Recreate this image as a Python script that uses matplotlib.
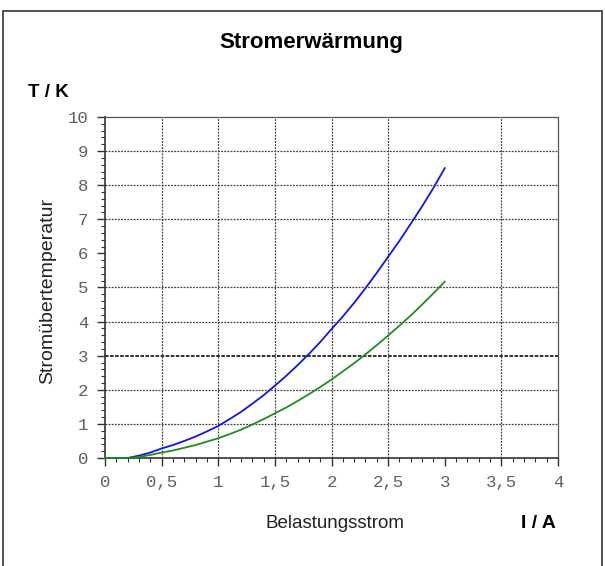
import matplotlib.pyplot as plt
import numpy as np
from matplotlib.ticker import MultipleLocator

# Belastungsstrom I / A
strom = [0, 0.1, 0.2, 0.3, 0.4, 0.5, 0.6, 0.7, 0.8, 0.9, 1.0,
         1.1, 1.2, 1.3, 1.4, 1.5, 1.6, 1.7, 1.8, 1.9, 2.0,
         2.1, 2.2, 2.3, 2.4, 2.5, 2.6, 2.7, 2.8, 2.9, 3.0]
# Stromübertemperatur T / K
temp_blau = [0, 0, 0, 0.07, 0.16, 0.28, 0.38, 0.50, 0.63, 0.78, 0.94,
             1.14, 1.35, 1.59, 1.84, 2.12, 2.41, 2.72, 3.05, 3.40, 3.78,
             4.15, 4.55, 4.98, 5.43, 5.90, 6.37, 6.87, 7.38, 7.92, 8.50]
temp_gruen = [0, 0, 0, 0.03, 0.09, 0.16, 0.22, 0.30, 0.38, 0.48, 0.58,
              0.70, 0.83, 0.98, 1.14, 1.31, 1.48, 1.67, 1.87, 2.08, 2.30,
              2.54, 2.78, 3.04, 3.31, 3.59, 3.88, 4.18, 4.50, 4.83, 5.17]

x_ticks = [0, 0.5, 1, 1.5, 2, 2.5, 3, 3.5, 4]
x_labels = ["0", "0,5", "1", "1,5", "2", "2,5", "3", "3,5", "4"]
y_ticks = list(range(0, 11))
grid_x = [0.5, 1, 1.5, 2, 2.5, 3.5]
grid_y = [1, 2, 4, 5, 7, 8, 9]

fig = plt.figure(figsize=(6.05, 5.66), dpi=100)
fig.patches.append(plt.Rectangle((0.005, -0.01), 0.99, 0.99, transform=fig.transFigure,
                                 fill=False, edgecolor="#333333", linewidth=1.2))

ax = fig.add_axes([0.1736, 0.1908, 0.7487, 0.6025])
ax.set_xlim(0, 4)
ax.set_ylim(0, 10)

for gx in grid_x:
    ax.axvline(gx, color="#444444", linestyle=(0, (1.5, 1)), linewidth=0.9, zorder=1)
for gy in grid_y:
    ax.axhline(gy, color="#444444", linestyle=(0, (1.5, 1)), linewidth=0.9, zorder=1)
ax.axhline(3, color="#222222", linestyle=(0, (2, 0.8)), linewidth=1.3, zorder=1)

ax.plot(strom, temp_blau, color="#1414e6", linewidth=1.3, zorder=3, clip_on=False)
ax.plot(strom, temp_gruen, color="#1f8c1f", linewidth=1.3, zorder=3, clip_on=False)

for s in ["top", "right"]:
    ax.spines[s].set_linestyle((0, (1.5, 1)))
    ax.spines[s].set_color("#555555")
    ax.spines[s].set_linewidth(0.9)
for s in ["left", "bottom"]:
    ax.spines[s].set_color("#333333")
    ax.spines[s].set_linewidth(1.2)

ax.set_xticks(x_ticks)
ax.set_xticklabels(x_labels)
ax.set_yticks(y_ticks)
ax.xaxis.set_minor_locator(MultipleLocator(0.1))
ax.yaxis.set_minor_locator(MultipleLocator(0.2))
ax.tick_params(which="major", direction="out", length=6, width=1, color="#333333",
               labelsize=12.5, labelcolor="#606060", pad=6)
ax.tick_params(which="minor", direction="out", length=3, width=0.8, color="#333333")
for lbl in ax.get_xticklabels() + ax.get_yticklabels():
    lbl.set_family("Liberation Mono")

fig.text(0.515, 0.925, "Stromerwärmung", ha="center", va="center",
         fontsize=16, fontweight="bold", family="Liberation Sans")
fig.text(0.046, 0.837, "T / K", ha="left", va="center",
         fontsize=13.5, fontweight="bold", family="Liberation Sans")
fig.text(0.553, 0.075, "Belastungsstrom", ha="center", va="center",
         fontsize=13.5, family="Liberation Sans", color="#222222")
fig.text(0.919, 0.075, "I / A", ha="right", va="center",
         fontsize=14, fontweight="bold", family="Liberation Sans")
fig.text(0.078, 0.486, "Stromübertemperatur", ha="center", va="center", rotation=90,
         fontsize=14, family="Liberation Sans", color="#222222")

fig.savefig("out.png", dpi=100)
